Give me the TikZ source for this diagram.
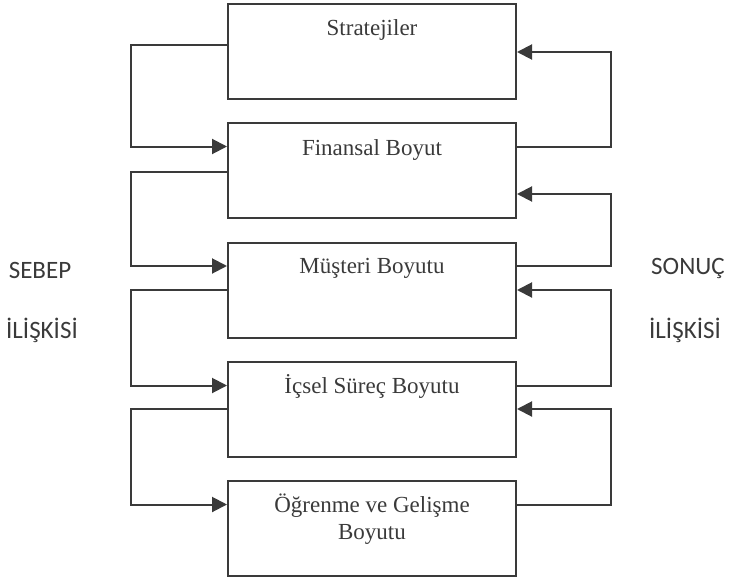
\documentclass[tikz,border=0pt]{standalone}
\usepackage{fontspec}
\setmainfont{Liberation Serif}
\newfontfamily\sidefont{Carlito}
\usetikzlibrary{arrows.meta}
\definecolor{ink}{HTML}{3A3A3A}
\tikzset{
  box/.style={draw=ink, line width=2pt, minimum width=288pt, minimum height=95pt, inner sep=0pt},
  title/.style={anchor=base, inner sep=0pt, align=center, text=ink, font=\fontsize{23}{27}\selectfont},
  link/.style={draw=ink, line width=2pt},
  feed/.style={link, -{Triangle[length=15pt,width=15pt]}},
  side/.style={inner sep=0pt, text=ink, font=\sidefont\fontsize{25}{30}\selectfont}
}
\begin{document}
\begin{tikzpicture}[x=1pt,y=-1pt]
\useasboundingbox (0,0) rectangle (730,578);
%boxes
\foreach \n/\yy/\dy/\txt in {strat/51.5/33/Stratejiler, fin/170.5/33/Finansal Boyut, mus/290/32/Müşteri Boyutu, ic/409.5/32/İçsel Süreç Boyutu, ogr/528.5/59/{Öğrenme ve Gelişme\\Boyutu}}{
  \node[box] (\n) at (372,\yy) {};
  \node[title] (\n-t) at ([yshift=-\dy pt]\n.north) {\txt};
}
%cause side
\foreach \a/\b/\s in {strat/fin/6.5, fin/mus/-1.5, mus/ic/0, ic/ogr/0.5}
  \draw[feed] ([yshift=\s pt]\a.west) -- ++(-96,0) |- ([yshift=24pt]\b.west);
%effect side
\foreach \a/\b/\s in {fin/strat/-0.5, mus/fin/-23.5, ic/mus/0, ogr/ic/0.5}
  \draw[feed] ([yshift=24pt]\a.east) -- ++(94,0) |- ([yshift=\s pt]\b.east);
%side texts
\node[side] (sebep) at (40,270) {SEBEP};
\node[side] (sebep-il) at (42,330) {İLİŞKİSİ};
\node[side] (sonuc) at (688,268) {SONUÇ};
\node[side] (sonuc-il) at (685,330) {İLİŞKİSİ};
\end{tikzpicture}
\end{document}
